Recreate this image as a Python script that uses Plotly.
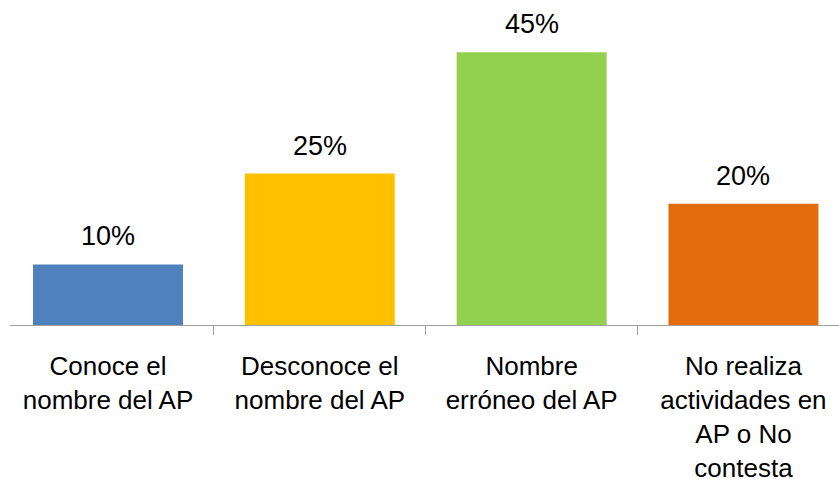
import plotly.graph_objects as go

categories = ["Conoce el<br>nombre del AP", "Desconoce el<br>nombre del AP",
              "Nombre<br>erróneo del AP", "No realiza<br>actividades en<br>AP o No<br>contesta"]
values = [0.10, 0.25, 0.45, 0.20]
labels = ["10%", "25%", "45%", "20%"]
colors = ["#4F81BD", "#FFC000", "#92D050", "#E46C0A"]

FONT = "Liberation Sans, Arial, sans-serif"

fig = go.Figure(go.Bar(x=categories, y=values, marker=dict(color=colors, line=dict(width=0)),
                       hoverinfo="skip"))

for c, v, t in zip(categories, values, labels):
    fig.add_annotation(x=c, y=v, text=t, showarrow=False, yanchor="bottom", yshift=11,
                       font=dict(family=FONT, size=27, color="#000000"))

fig.update_layout(
    width=839, height=479,
    margin=dict(l=10, r=0, t=22, b=154, autoexpand=False),
    plot_bgcolor="white", paper_bgcolor="white",
    bargap=0.292,
    showlegend=False,
    xaxis=dict(type="category", range=[-0.4627, 3.451], showline=True, linecolor="#A0A0A0",
               linewidth=1.2, ticks="outside", tickson="boundaries", ticklen=9, tickcolor="#A0A0A0",
               tickwidth=1.2, showgrid=False, zeroline=False, automargin=False,
               tickfont=dict(family=FONT, size=26, color="#000000"), ticklabelstandoff=18),
    yaxis=dict(range=[0, 0.5], visible=False, showgrid=False, zeroline=False),
)

fig.write_html("out.html", config={"displayModeBar": False},
               post_script="document.body.style.margin='0';document.body.style.overflow='hidden';")
